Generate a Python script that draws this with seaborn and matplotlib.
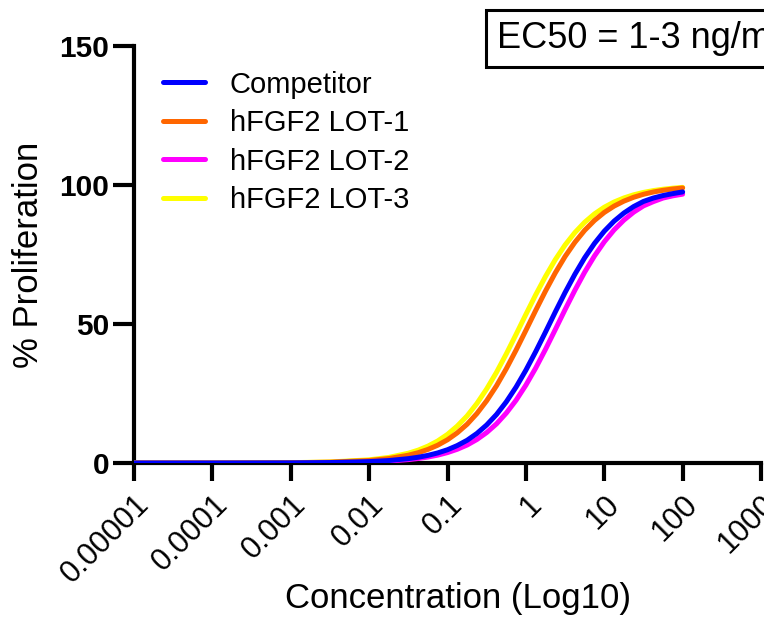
import matplotlib
matplotlib.use("Agg")
import matplotlib.pyplot as plt
import seaborn as sns
import pandas as pd
from matplotlib.lines import Line2D

# ---- data ----
concentration = [0.00001, 0.0001, 0.001, 0.00316, 0.01, 0.0178, 0.0316, 0.0422,
                 0.0562, 0.075, 0.1, 0.133, 0.178, 0.237, 0.316, 0.422, 0.562,
                 0.750, 1.0, 1.334, 1.78, 2.371, 3.16, 4.217, 5.62, 7.499, 10.0,
                 13.34, 17.8, 23.71, 31.6, 42.17, 56.2, 74.99, 100.0]
competitor = [0.0, 0.005, 0.05, 0.16, 0.50, 0.88, 1.56, 2.07, 2.74, 3.62, 4.77,
              6.27, 8.18, 10.62, 13.68, 17.45, 21.99, 27.32, 33.39, 40.06, 47.12,
              54.31, 61.31, 67.88, 73.81, 78.98, 83.37, 86.99, 89.91, 92.24,
              94.07, 95.3, 96.2, 96.9, 97.5]
lot1 = [0.0, 0.009, 0.09, 0.29, 0.90, 1.60, 2.80, 3.70, 4.88, 6.40, 8.36, 10.84,
        13.95, 17.78, 22.39, 27.78, 33.90, 40.62, 47.70, 54.88, 61.86, 68.38,
        74.26, 79.37, 83.68, 87.24, 90.12, 92.40, 94.19, 95.58, 96.65, 97.47,
        98.09, 98.56, 98.92]
lot2 = [0.0, 0.004, 0.04, 0.12, 0.39, 0.69, 1.22, 1.61, 2.14, 2.83, 3.75, 4.93,
        6.47, 8.45, 10.96, 14.09, 17.95, 22.58, 28.01, 34.15, 40.90, 47.98,
        55.16, 62.13, 68.63, 74.47, 79.55, 83.84, 87.37, 90.22, 92.48, 94.0,
        95.3, 96.1, 96.7]
lot3 = [0.0, 0.011, 0.115, 0.36, 1.14, 2.00, 3.51, 4.62, 6.06, 7.93, 10.30,
        13.28, 16.95, 21.40, 26.64, 32.63, 39.23, 46.27, 53.45, 60.49, 67.11,
        73.13, 78.41, 82.88, 86.59, 89.60, 91.99, 93.87, 95.33, 96.46, 97.32,
        97.98, 98.47, 98.85, 99.14]

series_names = ["Competitor", "hFGF2 LOT-1", "hFGF2 LOT-2", "hFGF2 LOT-3"]
series_values = [competitor, lot1, lot2, lot3]
series_colors = ["#0000FF", "#FF6600", "#FF00FF", "#FFFF00"]

x_ticks = [1e-5, 1e-4, 1e-3, 1e-2, 1e-1, 1, 10, 100, 1000]
x_tick_labels = ["0.00001", "0.0001", "0.001", "0.01", "0.1", "1", "10", "100", "1000"]
y_ticks = [0, 50, 100, 150]
y_tick_labels = ["0", "50", "100", "150"]

df = pd.concat(
    [pd.DataFrame({"Concentration": concentration, "Proliferation": vals, "Series": name})
     for name, vals in zip(series_names, series_values)],
    ignore_index=True,
)

sns.set_style("ticks")
plt.rcParams["font.family"] = ["Liberation Sans", "DejaVu Sans"]
plt.rcParams["text.color"] = "black"
plt.rcParams["axes.labelcolor"] = "black"
plt.rcParams["xtick.color"] = "black"
plt.rcParams["ytick.color"] = "black"

fig = plt.figure(figsize=(7.64, 6.17), dpi=100)
ax = fig.add_axes([0.1754, 0.2496, 0.8207, 0.6759])

palette = dict(zip(series_names, series_colors))
# draw competitor last so it sits on top
for name in ["hFGF2 LOT-2", "hFGF2 LOT-3", "hFGF2 LOT-1", "Competitor"]:
    sns.lineplot(data=df[df["Series"] == name], x="Concentration", y="Proliferation",
                 color=palette[name], lw=3.6, ax=ax, legend=False, zorder=3)

ax.set_xscale("log")
ax.set_xlim(1e-5, 1000)
ax.set_ylim(0, 150)
ax.set_xticks(x_ticks)
ax.set_xticklabels(x_tick_labels, rotation=45, ha="right", va="top",
                   rotation_mode="anchor", fontsize=22)
ax.minorticks_off()
ax.set_yticks(y_ticks)
ax.set_yticklabels(y_tick_labels, fontsize=21.5, fontweight="bold")

for s in ["top", "right"]:
    ax.spines[s].set_visible(False)
for s in ["left", "bottom"]:
    ax.spines[s].set_linewidth(3)
    ax.spines[s].set_color("black")
ax.tick_params(axis="y", length=15, width=3, pad=3)
ax.tick_params(axis="x", length=13, width=3, pad=6)

ax.set_xlabel("Concentration (Log10)", fontsize=25)
ax.xaxis.label.set_va("center")
ax.xaxis.set_label_coords(0.516, -0.324)
ax.set_ylabel("% Proliferation", fontsize=25)
ax.yaxis.label.set_va("center")
ax.yaxis.set_label_coords(-0.169, 0.5)

handles = [Line2D([0], [0], color=c, lw=3.6) for c in series_colors]
ax.legend(handles, series_names, loc="upper left", bbox_to_anchor=(0.046, 0.941),
          frameon=False, fontsize=21, handlelength=1.45, handletextpad=0.85,
          labelspacing=0.36, borderpad=0, borderaxespad=0)

fig.text(497 / 764, 0.938, "EC50 = 1-3 ng/mL", fontsize=26, ha="left", va="center",
         bbox=dict(boxstyle="square,pad=0.3", fc="white", ec="black", lw=2.2))

fig.savefig("out.png", dpi=100)
